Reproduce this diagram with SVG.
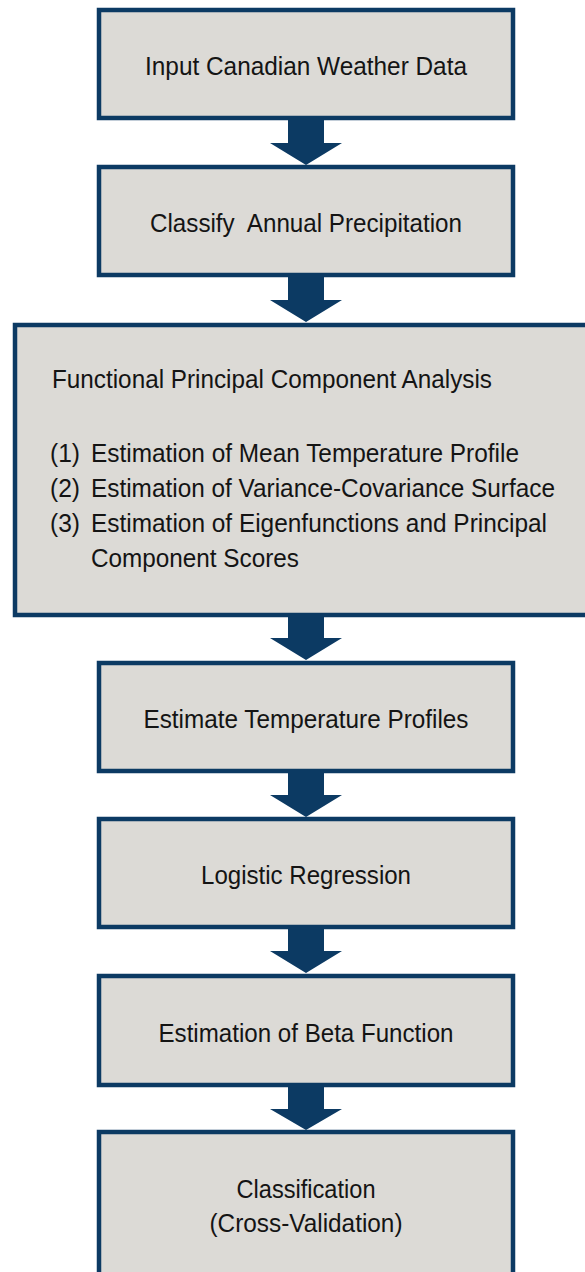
<svg xmlns="http://www.w3.org/2000/svg" width="585" height="1272" viewBox="0 0 585 1272">
<style>
.box{fill:#dcdad6;stroke:#0c3a63;stroke-width:4.5}
.arr{fill:#0c3a63}
text{font-family:"Liberation Sans",Arial,sans-serif;font-size:26px;fill:#141414;white-space:pre}
.c{text-anchor:middle}
</style>
<rect width="585" height="1272" fill="#ffffff"/>
<g id="n1"><rect class="box" x="99" y="10" width="414" height="108"/><text class="c" x="306" y="75" textLength="322" lengthAdjust="spacingAndGlyphs">Input Canadian Weather Data</text></g>
<g id="n2"><rect class="box" x="99" y="167" width="414" height="108"/><text class="c" x="306" y="232" xml:space="preserve" textLength="312" lengthAdjust="spacingAndGlyphs">Classify  Annual Precipitation</text></g>
<g id="n3"><rect class="box" x="15" y="325" width="600" height="290"/>
<text x="52" y="388" textLength="440" lengthAdjust="spacingAndGlyphs">Functional Principal Component Analysis</text>
<text x="50" y="462" textLength="30" lengthAdjust="spacingAndGlyphs">(1)</text><text x="91" y="462" textLength="428" lengthAdjust="spacingAndGlyphs">Estimation of Mean Temperature Profile</text>
<text x="50" y="497" textLength="30" lengthAdjust="spacingAndGlyphs">(2)</text><text x="91" y="497" textLength="464" lengthAdjust="spacingAndGlyphs">Estimation of Variance-Covariance Surface</text>
<text x="50" y="532" textLength="30" lengthAdjust="spacingAndGlyphs">(3)</text><text x="91" y="532" textLength="456" lengthAdjust="spacingAndGlyphs">Estimation of Eigenfunctions and Principal</text>
<text x="91" y="567" textLength="208" lengthAdjust="spacingAndGlyphs">Component Scores</text></g>
<g id="n4"><rect class="box" x="99" y="663" width="414" height="108"/><text class="c" x="306" y="728" textLength="325" lengthAdjust="spacingAndGlyphs">Estimate Temperature Profiles</text></g>
<g id="n5"><rect class="box" x="99" y="819" width="414" height="108"/><text class="c" x="306" y="884" textLength="210" lengthAdjust="spacingAndGlyphs">Logistic Regression</text></g>
<g id="n6"><rect class="box" x="99" y="976" width="414" height="109"/><text class="c" x="306" y="1042" textLength="295" lengthAdjust="spacingAndGlyphs">Estimation of Beta Function</text></g>
<g id="n7"><rect class="box" x="99" y="1132" width="414" height="200"/><text class="c" x="306" y="1198" textLength="139" lengthAdjust="spacingAndGlyphs">Classification</text><text class="c" x="306" y="1232" textLength="193" lengthAdjust="spacingAndGlyphs">(Cross-Validation)</text></g>
<g id="connectors">
<polygon class="arr" points="288,119 324,119 324,143 342,143 306,165 270,143 288,143"/>
<polygon class="arr" points="288,276 324,276 324,300 342,300 306,322 270,300 288,300"/>
<polygon class="arr" points="288,616 324,616 324,638 342,638 306,660 270,638 288,638"/>
<polygon class="arr" points="288,772 324,772 324,795 342,795 306,817 270,795 288,795"/>
<polygon class="arr" points="288,928 324,928 324,951 342,951 306,973 270,951 288,951"/>
<polygon class="arr" points="288,1086 324,1086 324,1109 342,1109 306,1130 270,1109 288,1109"/>
</g>
</svg>
